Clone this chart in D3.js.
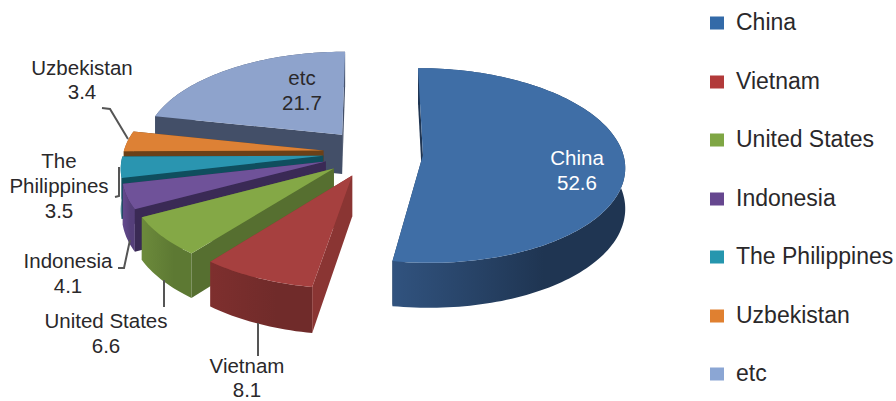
<!DOCTYPE html>
<html><head><meta charset="utf-8">
<script src="https://cdnjs.cloudflare.com/ajax/libs/d3/7.8.5/d3.min.js"></script>
<style>html,body{margin:0;padding:0;background:#fff}svg{display:block}text{font-family:"Liberation Sans",Arial,sans-serif;fill:#2a282a}</style>
</head><body><svg id="c" width="896" height="401"></svg>
<script>
const categories = ["China","Vietnam","United States","Indonesia","The Philippines","Uzbekistan","etc"];
const values = [52.6,8.1,6.6,4.1,3.5,3.4,21.7];
const topColors = ["#3f6ea6","#a6403f","#84a846","#6f5299","#2a95b0","#dd8135","#8ea3cc"];
const rimColors = [["#31537f","#1f3552"],["#7e2f2e","#702b2a"],["#6c8a3b","#5d7933"],["#644a8e","#553f7a"],["#1f7186","#1a6072"],["#a8632a","#8f5422"],["#46536e","#46536e"]];
const sideColors = ["#1f3552","#8a3533","#566f30","#3a2a55","#0f4e5e","#6b4018","#434f68"];
const legendColors = ["#336aa8","#b23a3a","#7fa644","#66478f","#2596ae","#e08030","#8ba6d4"];
const labelLines = [["China","52.6"],["Vietnam","8.1"],["United States","6.6"],["Indonesia","4.1"],["The","Philippines","3.5"],["Uzbekistan","3.4"],["etc","21.7"]];
const labelX = [577,247,106,68,59,82,302];
const labelY = [165,373,328,268,168,75,85];
const labelStep = [25,23.6,25,25,25,24,25];
const leaders = [null,[[258,323],[258,356]],[[164,280],[164,307]],[[130,240],[124,268],[118,268]],[[119,167],[119,196],[115,197]],[[128,139],[110,109],[102,108]],null];
const legendY = [23,82,140,199,257,316,374];

const svg = d3.select("#c");
const CX=373, CY=153, R=200, EXPLODE=50, TILT=0.479, PERSP=0.00054, DEPTH=40;
const defs = svg.append("defs");
const pie = d3.pie().sort(null).value(d=>d).startAngle(0).endAngle(2*Math.PI)(values);
const project = (u,v,z=0)=>{const s=1/(1+PERSP*v);return [CX+u*s, CY-v*TILT*s+z*s];};
const line = d3.line();
const rOf = t=>({u:R*Math.sin(t),v:R*Math.cos(t)});

function slicePaths(d){
  const mid=(d.startAngle+d.endAngle)/2, ou=EXPLODE*Math.sin(mid), ov=EXPLODE*Math.cos(mid);
  const n=Math.max(8,Math.ceil((d.endAngle-d.startAngle)*40));
  const ang=d3.range(n+1).map(i=>d.startAngle+(d.endAngle-d.startAngle)*i/n);
  const arcAt=z=>ang.map(t=>{const p=rOf(t);return project(ou+p.u,ov+p.v,z);});
  const apex=z=>project(ou,ov,z);
  const top=arcAt(0), bot=arcAt(DEPTH);
  return {
    top:line([apex(0),...top])+"Z",
    rim:line([...top,...bot.slice().reverse()])+"Z",
    side:line([apex(0),top[0],bot[0],apex(DEPTH)])+"Z",
    back:line([apex(0),top[n],bot[n],apex(DEPTH)])+"Z"
  };
}
const order = pie.map((d,i)=>i).reverse();
const chart = svg.append("g").attr("style","filter:blur(0.45px)");
order.forEach(i=>{
  const p=slicePaths(pie[i]);
  const g=defs.append("linearGradient").attr("id","rim"+i);
  g.append("stop").attr("offset","0%").attr("stop-color",rimColors[i][0]);
  g.append("stop").attr("offset","65%").attr("stop-color",rimColors[i][1]);
  const s=chart.append("g");
  s.append("path").attr("d",p.back).attr("fill",sideColors[i]);
  s.append("path").attr("d",p.rim).attr("fill",`url(#rim${i})`);
  s.append("path").attr("d",p.side).attr("fill",sideColors[i]);
  s.append("path").attr("d",p.top).attr("fill",topColors[i]);
});
const leaderLine=d3.line();
chart.selectAll("path.leader").data(leaders.filter(Boolean)).join("path").attr("class","leader")
  .attr("d",d=>leaderLine(d)).attr("fill","none").attr("stroke","#555").attr("stroke-width",2);

labelLines.forEach((ls,i)=>{
  svg.append("text").attr("text-anchor","middle").attr("font-size",20.5)
    .selectAll("tspan").data(ls).join("tspan")
    .attr("x",labelX[i]).attr("y",(d,k)=>labelY[i]+k*labelStep[i]).text(d=>d)
    .style("fill",i===0?"#fff":null);
});
const legend=svg.append("g");
categories.forEach((c,i)=>{
  legend.append("rect").attr("x",710).attr("y",legendY[i]-6.5).attr("width",14).attr("height",13).attr("fill",legendColors[i]);
  legend.append("text").attr("x",736).attr("y",legendY[i]+7).attr("font-size",23).text(c);
});
</script></body></html>
